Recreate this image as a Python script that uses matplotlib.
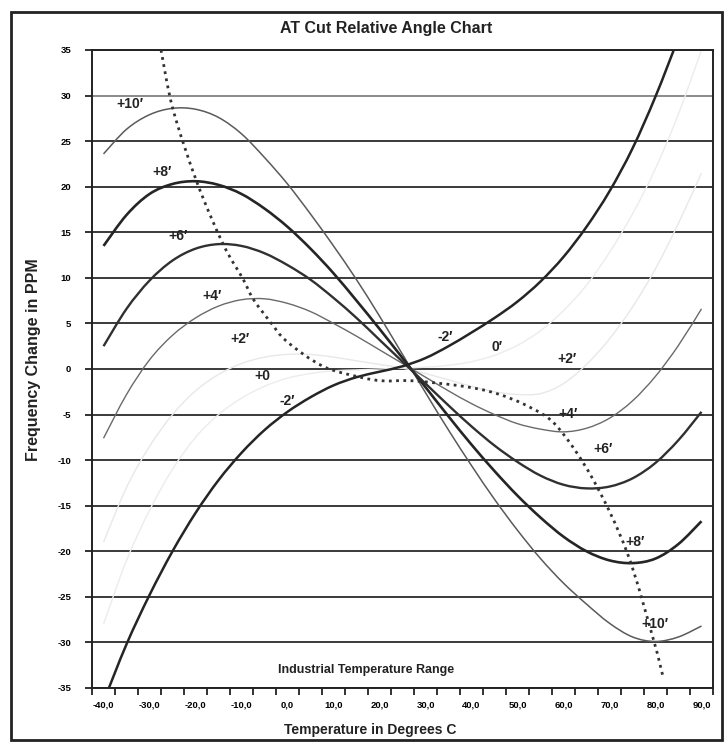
import matplotlib
matplotlib.use('Agg')
import matplotlib.pyplot as plt
from matplotlib.patches import Rectangle, PathPatch
from matplotlib.path import Path

plt.rcParams['font.family'] = ['Liberation Sans', 'DejaVu Sans']
plt.rcParams['font.weight'] = 'bold'

# --- data (temperature in deg C, frequency change in PPM) ---
temps = [-40, -35, -30, -25, -20, -15, -10, -5, 0, 5, 10, 15, 20, 25,
         30, 35, 40, 45, 50, 55, 60, 65, 70, 75, 80, 85, 90]

ppm_p10 = [23.6, 26.3, 27.9, 28.6, 28.5, 27.6, 25.8, 23.2, 20.3, 17.0, 13.5, 9.8, 5.8, 1.6,
           -2.6, -6.7, -10.6, -14.3, -17.7, -20.8, -23.5, -25.8, -27.9, -29.4, -29.9, -29.4, -28.2]
ppm_p8 = [13.5, 16.9, 19.2, 20.3, 20.6, 20.2, 19.2, 17.6, 15.6, 13.2, 10.5, 7.5, 4.4, 1.2,
          -2.0, -5.2, -8.3, -11.2, -13.9, -16.3, -18.4, -20.0, -21.0, -21.3, -20.8, -19.2, -16.7]
ppm_p6 = [2.5, 6.6, 9.7, 11.9, 13.2, 13.7, 13.5, 12.7, 11.4, 9.8, 7.8, 5.6, 3.2, 0.8,
          -1.6, -4.0, -6.3, -8.4, -10.2, -11.7, -12.7, -13.1, -12.9, -12.0, -10.3, -7.8, -4.7]
ppm_p4 = [-7.6, -2.8, 1.0, 3.7, 5.6, 6.9, 7.6, 7.7, 7.2, 6.3, 5.0, 3.6, 2.1, 0.6,
          -0.9, -2.4, -3.8, -5.0, -6.0, -6.6, -6.9, -6.5, -5.4, -3.5, -0.8, 2.6, 6.6]
ppm_p2 = [-19.0, -13.0, -8.5, -5.0, -2.4, -0.6, 0.6, 1.3, 1.6, 1.6, 1.3, 0.9, 0.5, 0.1,
          -0.5, -1.2, -1.9, -2.5, -2.8, -2.7, -1.6, 0.5, 3.3, 6.8, 11.0, 16.0, 21.5]
ppm_0 = [-28.0, -21.0, -15.5, -11.0, -7.5, -5.0, -3.2, -1.9, -1.0, -0.5, -0.2, -0.1, 0.0, 0.1,
         0.2, 0.4, 0.8, 1.5, 2.6, 4.2, 6.4, 9.2, 12.8, 17.0, 22.0, 28.0, 35.0]
ppm_m2 = [-36.5, -30.2, -24.8, -20.0, -15.8, -12.2, -9.2, -6.7, -4.7, -3.1, -1.8, -0.9, -0.3, 0.3,
          1.2, 2.5, 4.0, 5.6, 7.4, 9.6, 12.3, 15.6, 19.5, 24.2, 29.9, 36.4, 43.5]

# turnover locus (dotted line)
locus_t = [-27.5, -24.9, -19.7, -14.0, -9.7, -7.5, -3.8, -0.1, 7.7, 15.8, 20.8, 27.3,
           38.2, 45.5, 52.7, 58.6, 66.4, 73.8, 79.5, 81.6]
locus_v = [35.0, 28.5, 20.5, 13.7, 9.9, 7.7, 5.2, 3.0, 0.3, -0.9, -1.3, -1.3,
           -1.9, -2.7, -4.2, -6.3, -12.1, -20.1, -29.6, -33.7]

# curve labels: text, temperature, ppm
left_labels = [('+10′', -34.2, 29.1), ('+8′', -27.3, 21.6), ('+6′', -23.8, 14.6),
               ('+4′', -16.4, 8.0), ('+2′', -10.3, 3.3), ('+0', -5.5, -0.8), ('-2′', -0.1, -3.5)]
right_labels = [('-2′', 34.2, 3.5), ('0′', 45.5, 2.4), ('+2′', 60.8, 1.1), ('+4′', 61.0, -4.9),
                ('+6′', 68.6, -8.8), ('+8′', 75.5, -19.0), ('+10′', 79.9, -28.0)]

y_ticks = [35, 30, 25, 20, 15, 10, 5, 0, -5, -10, -15, -20, -25, -30, -35]
x_label_vals = [-40, -30, -20, -10, 0, 10, 20, 30, 40, 50, 60, 70, 80, 90]
x_label_text = ['-40,0', '-30,0', '-20,0', '-10,0', '0,0', '10,0', '20,0', '30,0',
                '40,0', '50,0', '60,0', '70,0', '80,0', '90,0']


def smooth_line(ax, xs, ys, **kw):
    # Excel-style smoothed line: bezier segments through the data points
    n = len(xs)
    verts = [(xs[0], ys[0])]
    codes = [Path.MOVETO]
    for i in range(n - 1):
        i0 = max(i - 1, 0)
        i3 = min(i + 2, n - 1)
        c1 = (xs[i] + (xs[i + 1] - xs[i0]) / 6, ys[i] + (ys[i + 1] - ys[i0]) / 6)
        c2 = (xs[i + 1] - (xs[i3] - xs[i]) / 6, ys[i + 1] - (ys[i3] - ys[i]) / 6)
        verts += [c1, c2, (xs[i + 1], ys[i + 1])]
        codes += [Path.CURVE4] * 3
    patch = PathPatch(Path(verts, codes), fill=False, capstyle='butt', **kw)
    ax.add_patch(patch)
    return patch


fig = plt.figure(figsize=(7.28, 7.44), dpi=100)
fig.patch.set_facecolor('white')
ax = fig.add_axes([0.1264, 0.0753, 0.853, 0.8575])

# horizontal grid lines (the 30 line came out lighter in the scan)
for v in y_ticks:
    ax.axhline(v, color='#8a8a8a' if v == 30 else '#3a3a3a', lw=1.4, zorder=1)

# light series (nearly lost in the scan)
smooth_line(ax, temps, ppm_0, ec='#ececec', lw=1.0, zorder=2)
smooth_line(ax, temps, ppm_p2, ec='#e8e8e8', lw=1.0, zorder=2)

smooth_line(ax, temps, ppm_p10, ec='#5a5a5a', lw=1.1, zorder=3)
smooth_line(ax, temps, ppm_p4, ec='#6a6a6a', lw=1.0, zorder=3)
smooth_line(ax, temps, ppm_p8, ec='#252525', lw=1.9, zorder=3)
smooth_line(ax, temps, ppm_p6, ec='#303030', lw=1.7, zorder=3)
smooth_line(ax, temps, ppm_m2, ec='#252525', lw=1.8, zorder=3)

smooth_line(ax, locus_t, locus_v, ec='#333333', lw=2.0, ls=(0, (1, 1.6)), zorder=4)

for txt, t, v in left_labels + right_labels:
    ax.text(t, v, txt, fontsize=10, fontweight='bold', ha='center', va='center',
            color='#222222', zorder=5)

ax.text(17, -33.0, 'Industrial Temperature Range', fontsize=9, fontweight='bold',
        ha='center', va='center', color='#222222')

ax.set_xlim(-42.5, 92.5)
ax.set_ylim(-35, 35)

# tick marks on category boundaries, labels on category centres
ax.set_xticks([-42.5 + 5 * i for i in range(28)])
ax.set_xticklabels([])
ax.set_xticks(x_label_vals, minor=True)
ax.set_xticklabels(x_label_text, minor=True, fontsize=6.8, fontweight='bold')
ax.tick_params(axis='x', which='major', direction='out', length=5, width=1.3, color='#222222')
ax.tick_params(axis='x', which='minor', length=0, pad=9)

ax.set_yticks(y_ticks)
ax.set_yticklabels([str(v) for v in y_ticks], fontsize=6.8, fontweight='bold')
ax.tick_params(axis='y', direction='out', length=5, width=1.3, color='#222222', pad=10)

for s in ax.spines.values():
    s.set_color('#222222')
    s.set_linewidth(1.4)

fig.text(0.508, 0.019, 'Temperature in Degrees C', fontsize=10, fontweight='bold',
         ha='center', va='center', color='#222222')
fig.text(0.046, 0.516, 'Frequency Change in PPM', fontsize=11.5, fontweight='bold',
         ha='center', va='center', rotation=90, color='#222222')
fig.text(0.53, 0.962, 'AT Cut Relative Angle Chart', fontsize=11.5, fontweight='bold',
         ha='center', va='center', color='#222222')

# chart area border
fig.patches.append(Rectangle((0.015, 0.006), 0.977, 0.978, transform=fig.transFigure,
                             fill=False, ec='#222222', lw=2.0))

fig.savefig('out.png', dpi=100)
